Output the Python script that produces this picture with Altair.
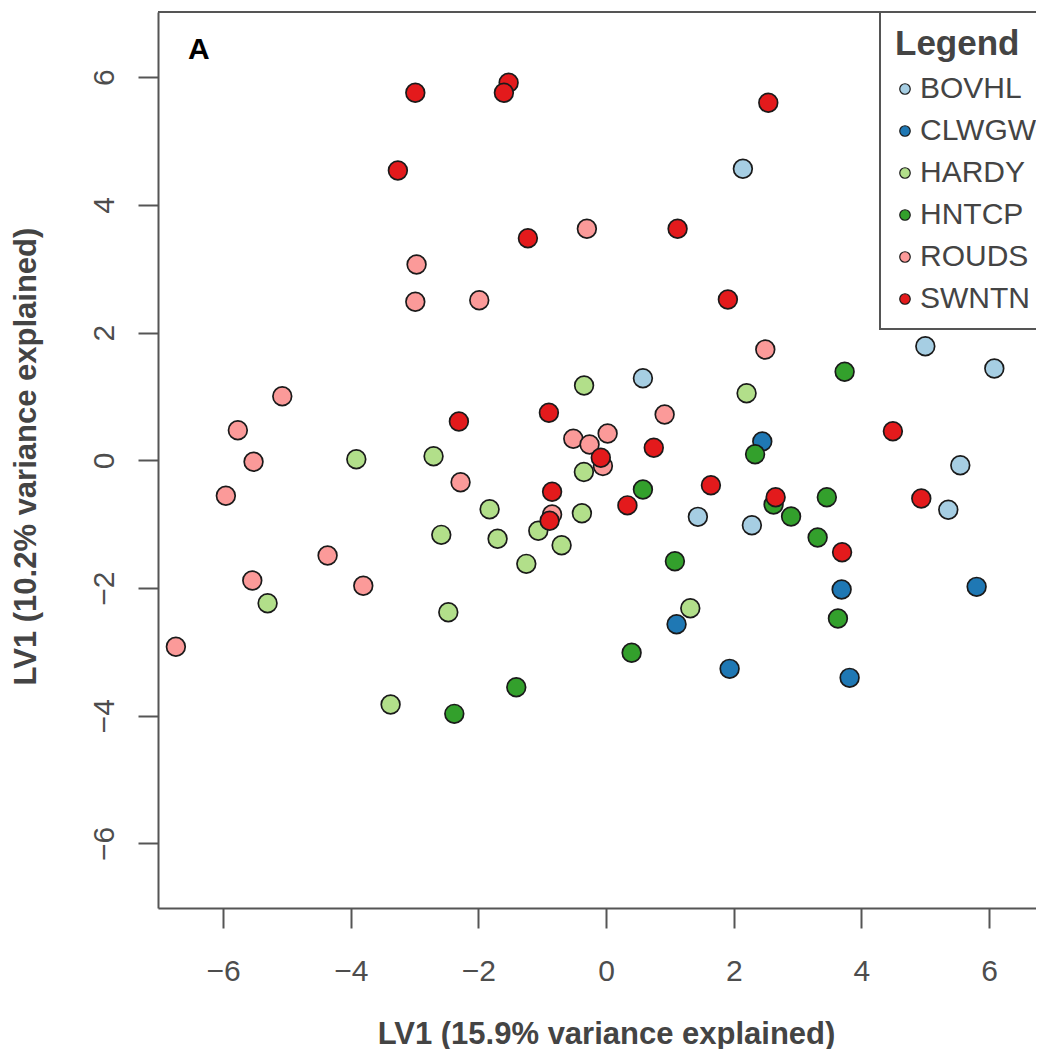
import altair as alt
import pandas as pd

groups = ["BOVHL", "CLWGW", "HARDY", "HNTCP", "ROUDS", "SWNTN"]
colors = ["#A6CEE3", "#1F78B4", "#B2DF8A", "#33A02C", "#FB9A99", "#E31A1C"]

bovhl_x = [2.143, 0.577, 5.001, 6.082, 5.549, 5.361, 1.438, 2.284]
bovhl_y = [4.565, 1.286, 1.787, 1.438, -0.077, -0.775, -0.885, -1.016]

clwgw_x = [2.447, 3.690, 5.805, 1.104, 1.935, 3.815]
clwgw_y = [0.294, -2.023, -1.981, -2.567, -3.265, -3.406]

hardy_x = [-0.345, 2.201, -3.913, -2.703, -0.348, -1.825, -0.379, -2.582,
           -1.700, -1.062, -0.697, -1.250, -5.303, -2.472, 1.319, -3.376]
hardy_y = [1.171, 1.051, 0.017, 0.064, -0.183, -0.766, -0.830, -1.167,
           -1.229, -1.104, -1.329, -1.621, -2.238, -2.379, -2.316, -3.824]

hntcp_x = [3.737, 2.334, 0.577, 3.458, 2.624, 2.898, 3.314, 1.078,
           3.632, 0.400, -1.407, -2.378]
hntcp_y = [1.386, 0.096, -0.457, -0.578, -0.692, -0.880, -1.209, -1.580,
           -2.477, -3.014, -3.553, -3.970]

rouds_x = [-0.301, -2.969, -2.989, -1.987, 2.494, -5.073, 0.917, -5.769,
           -0.514, 0.024, -0.259, -5.523, -0.050, -2.280, -5.957, -0.846,
           -4.363, -5.543, -3.804, -6.740]
rouds_y = [3.625, 3.066, 2.482, 2.507, 1.735, 1.004, 0.717, 0.471,
           0.337, 0.420, 0.247, -0.023, -0.089, -0.343, -0.556, -0.849,
           -1.491, -1.882, -1.965, -2.920]

swntn_x = [-1.527, -1.601, -2.989, 2.541, -3.262, -1.225, 1.120, 1.908,
           -2.306, -0.896, -0.083, 0.747, 4.493, 1.642, -0.846, 2.656,
           4.938, 0.334, -0.885, 3.697]
swntn_y = [5.911, 5.755, 5.755, 5.598, 4.538, 3.478, 3.625, 2.518,
           0.608, 0.744, 0.039, 0.197, 0.456, -0.390, -0.493, -0.578,
           -0.598, -0.705, -0.946, -1.439]

series = [
    ("BOVHL", bovhl_x, bovhl_y),
    ("CLWGW", clwgw_x, clwgw_y),
    ("HARDY", hardy_x, hardy_y),
    ("HNTCP", hntcp_x, hntcp_y),
    ("ROUDS", rouds_x, rouds_y),
    ("SWNTN", swntn_x, swntn_y),
]
rows = []
for g, xs, ys in series:
    for xv, yv in zip(xs, ys):
        rows.append({"group": g, "x": xv, "y": yv})
df = pd.DataFrame(rows)
df["idx"] = range(len(df))

x_ticks = [-6, -4, -2, 0, 2, 4, 6]
y_ticks = [-6, -4, -2, 0, 2, 4, 6]

W, H = 878, 896
FONT = "Liberation Sans"
FRAME = "#555555"

points = alt.Chart(df).mark_circle(
    size=350, stroke="#1a1a1a", strokeWidth=1.7, opacity=1
).encode(
    x=alt.X("x:Q",
            scale=alt.Scale(domain=[-7.02, 6.735], nice=False, zero=False),
            axis=alt.Axis(values=x_ticks, grid=False, domain=True,
                          domainColor=FRAME, domainWidth=2,
                          tickColor=FRAME, tickWidth=2, tickSize=20,
                          labelFont=FONT, labelFontSize=30, labelColor="#4d4d4d",
                          labelPadding=28, labelFlush=False, labelOverlap=False,
                          title="LV1 (15.9% variance explained)",
                          titleFont=FONT, titleFontSize=31, titleFontWeight="bold",
                          titleColor="#444444", titleX=448, titleY=135,
                          titleAlign="center", titleBaseline="alphabetic")),
    y=alt.Y("y:Q",
            scale=alt.Scale(domain=[-7.01, 7.02], nice=False, zero=False),
            axis=alt.Axis(values=y_ticks, grid=False, domain=True,
                          domainColor=FRAME, domainWidth=2,
                          tickColor=FRAME, tickWidth=2, tickSize=20,
                          labelFont=FONT, labelFontSize=30, labelColor="#4d4d4d",
                          labelAngle=270, labelAlign="center",
                          labelBaseline="alphabetic", labelPadding=25,
                          labelFlush=False, labelOverlap=False,
                          title="LV1 (10.2% variance explained)",
                          titleFont=FONT, titleFontSize=31, titleFontWeight="bold",
                          titleColor="#444444", titleAngle=270,
                          titleX=-123, titleY=444,
                          titleAlign="center", titleBaseline="alphabetic")),
    color=alt.Color("group:N",
                    scale=alt.Scale(domain=groups, range=colors),
                    legend=alt.Legend(title="Legend", orient="none",
                                      legendX=722, legendY=0,
                                      titleFont=FONT, titleFontSize=35,
                                      titleFontWeight="bold", titleColor="#444444",
                                      titlePadding=12,
                                      labelFont=FONT, labelFontSize=30,
                                      labelColor="#444444", labelOffset=0,
                                      padding=15, rowPadding=12,
                                      symbolType="circle", symbolSize=110,
                                      symbolOffset=-5,
                                      symbolStrokeColor="#1a1a1a",
                                      symbolStrokeWidth=1.2,
                                      strokeColor=FRAME, fillColor="white")),
    order=alt.Order("idx:Q"),
)

top_line = alt.Chart(pd.DataFrame({"k": [0]})).mark_rule(
    color=FRAME, strokeWidth=2
).encode(x=alt.value(0), x2=alt.value(W), y=alt.value(0))

letter = alt.Chart(pd.DataFrame({"k": [0]})).mark_text(
    text="A", font=FONT, fontSize=30, fontWeight="bold", color="black",
    align="left", baseline="alphabetic"
).encode(x=alt.value(30), y=alt.value(47))

chart = alt.layer(top_line, points, letter).properties(
    width=W, height=H,
    padding={"left": 150, "top": 4, "right": 0, "bottom": 141},
    autosize=alt.AutoSizeParams(type="none"),
).configure_view(strokeWidth=0).configure_legend(strokeWidth=2)

chart.save("out.html", embed_options={"renderer": "svg", "actions": False})
